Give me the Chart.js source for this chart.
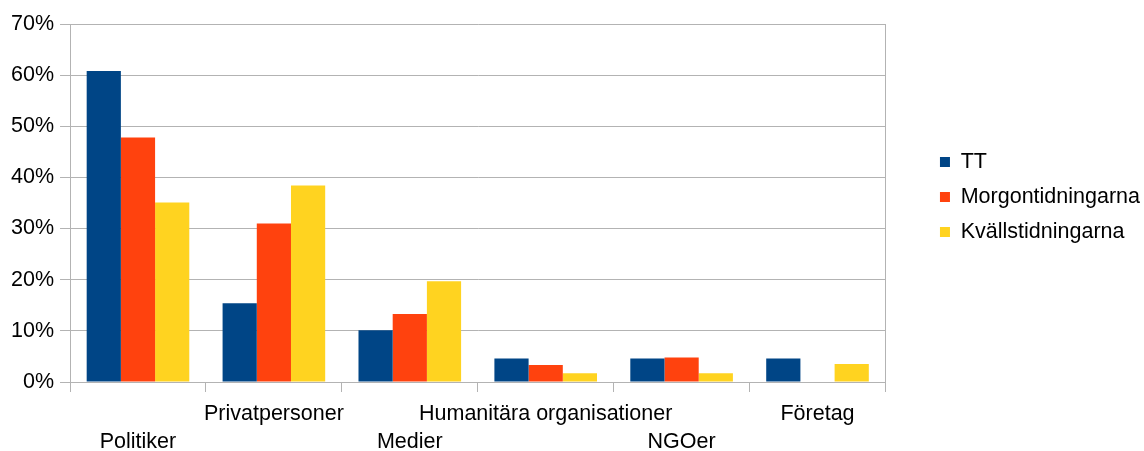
<!DOCTYPE html>
<html>
<head>
<meta charset="utf-8">
<script src="https://cdn.jsdelivr.net/npm/chart.js@4/dist/chart.umd.min.js"></script>
<style>
  html, body { margin: 0; padding: 0; background: #fff; }
  #wrap { width: 1144px; height: 451px; }
</style>
</head>
<body>
<div id="wrap"><canvas id="chart"></canvas></div>
<script>
const categories = ["Politiker", "Privatpersoner", "Medier", "Humanitära organisationer", "NGOer", "Företag"];
const ttValues = [60.8, 15.4, 10.1, 4.6, 4.6, 4.6];
const morgonValues = [47.8, 31.0, 13.3, 3.3, 4.8, 0];
const kvallsValues = [35.1, 38.4, 19.7, 1.7, 1.7, 3.5];
const yTicks = [0, 10, 20, 30, 40, 50, 60, 70];

const gridGray = '#b3b3b3';
const font = { family: '"Liberation Sans", Arial, sans-serif', size: 21.5, lineHeight: 1.3 };

Chart.defaults.color = '#000';

// legend sits a little above the middle of the plot
const legendNudge = {
    id: 'legendNudge',
    afterLayout: function (chart) {
        chart.legend.top -= 6;
        chart.legend.bottom -= 6;
    }
};

var ctx = document.getElementById('chart');
var chart = new Chart(ctx, {
    type: 'bar',
    data: {
        labels: categories,
        datasets: [
            { label: "TT", data: ttValues, backgroundColor: '#004586' },
            { label: "Morgontidningarna", data: morgonValues, backgroundColor: '#FF420E' },
            { label: "Kvällstidningarna", data: kvallsValues, backgroundColor: '#FFD320' }
        ]
    },
    options: {
        responsive: true,
        maintainAspectRatio: false,
        animation: false,
        datasets: {
            bar: { categoryPercentage: 0.755, barPercentage: 1.0 }
        },
        layout: { padding: { top: 24, right: -6, left: 5, bottom: 0 } },
        scales: {
            x: {
                grid: {
                    // only the right border line goes through the plot
                    color: function (c) { return (c.index === undefined || c.index === 0) ? gridGray : 'transparent'; },
                    tickColor: gridGray,
                    tickLength: 10
                },
                border: { color: gridGray },
                afterFit: function (scale) { scale.height = 69; },
                ticks: {
                    font: font,
                    padding: 8,
                    autoSkip: false,
                    maxRotation: 0,
                    minRotation: 0,
                    // staggered labels: every other one on the second row
                    callback: function (value, index) {
                        const lbl = categories[index];
                        return index % 2 === 0 ? ['', lbl] : lbl;
                    }
                }
            },
            y: {
                min: 0,
                max: 70,
                afterBuildTicks: function (scale) {
                    scale.ticks = yTicks.map(v => ({ value: v }));
                },
                grid: { color: gridGray, tickLength: 10 },
                border: { color: gridGray },
                ticks: {
                    font: font,
                    padding: 6,
                    callback: function (value) { return value + '%'; }
                }
            },
            yRight: {
                position: 'right',
                display: true,
                grid: { display: false },
                border: { display: false },
                ticks: { display: false },
                afterFit: function (scale) { scale.width = 41; }
            }
        },
        plugins: {
            legend: {
                position: 'right',
                fullSize: false,
                maxWidth: 320,
                labels: {
                    font: font,
                    boxWidth: 10,
                    boxHeight: 10,
                    padding: 13.5,
                    color: '#000'
                }
            },
            tooltip: { enabled: false }
        }
    },
    plugins: [legendNudge]
});
</script>
</body>
</html>
